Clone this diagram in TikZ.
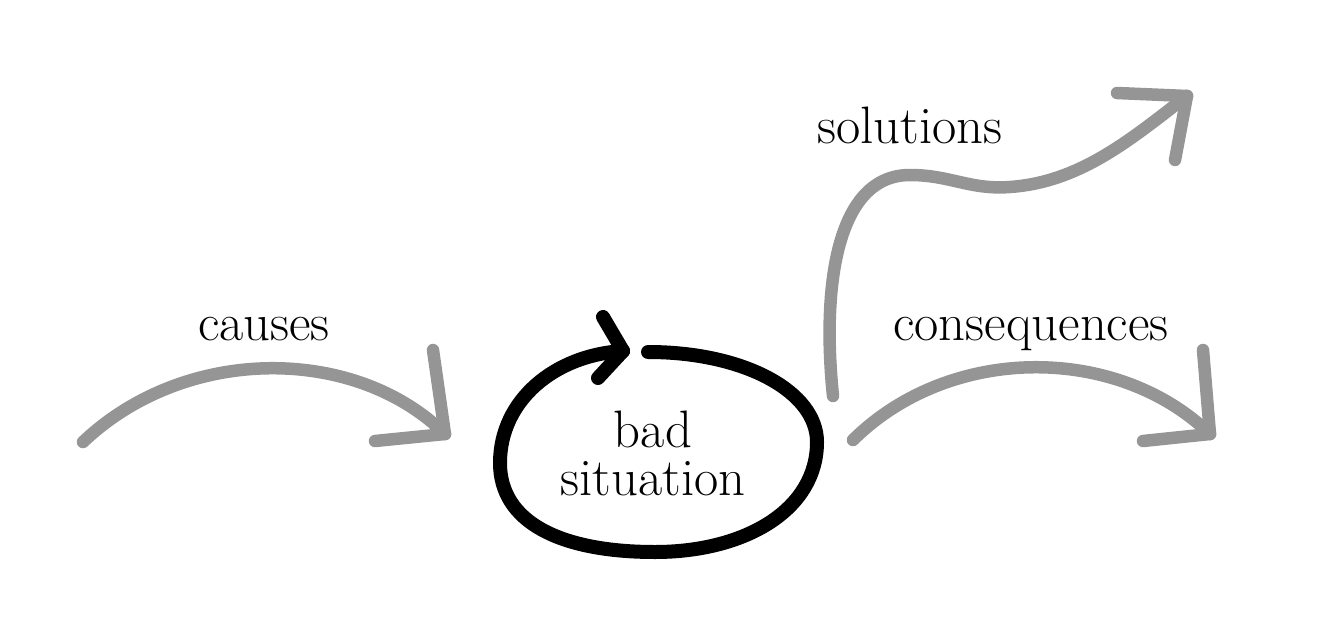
\documentclass[tikz,border=0pt]{standalone}
\definecolor{arrowgray}{HTML}{959595}
\tikzset{
  grayline/.style={draw=arrowgray, line width=0.25cm, line cap=round, line join=round},
  blackline/.style={draw=black, line width=0.28cm, line cap=round, line join=round},
  lbl/.style={font=\fontsize{30}{30}\selectfont, anchor=base, inner sep=0pt}
}
\begin{document}
\begin{tikzpicture}[x=0.02cm, y=-0.02cm]
\useasboundingbox (0,0) rectangle (1332,632);
% labels
\node[lbl] (causes) at (264,340) {causes};
\node[lbl] (solutions) at (910,143) {solutions};
\node[lbl] (consequences) at (1031,340) {consequences};
\node[lbl] (bad) at (653,447) {bad};
\node[lbl] (situation) at (653,495) {situation};
% causes arrow
\coordinate (c0) at (83,442);
\coordinate (c1) at (445,434);
\draw[grayline] (c0) .. controls (185,345) and (355,345) .. (c1);
\draw[grayline] (433,350) -- (c1);
\draw[grayline] (375,441) -- (c1);
% consequences arrow
\coordinate (q0) at (853,440);
\coordinate (q1) at (1210,434);
\draw[grayline] (q0) .. controls (950,344) and (1117,344) .. (q1);
\draw[grayline] (1203,350) -- (q1);
\draw[grayline] (1143,441) -- (q1);
% solutions arrow
\coordinate (s0) at (833,396);
\coordinate (s1) at (1187,96);
\draw[grayline] (s0) .. controls (822,290) and (835,175) .. (910,175)
  .. controls (950,175) and (970,190) .. (1010,187)
  .. controls (1080,182) and (1130,140) .. (s1);
\draw[grayline] (1117,93) -- (s1);
\draw[grayline] (1175,160) -- (s1);
% bad situation loop
\coordinate (e0) at (648,352);
\coordinate (e1) at (623,351);
\draw[blackline] (e0) .. controls (745,352) and (817,392) .. (817,442)
  .. controls (817,510) and (745,552) .. (655,552)
  .. controls (560,552) and (500,522) .. (500,463)
  .. controls (500,400) and (555,355) .. (e1);
\draw[blackline] (603,317) -- (e1);
\draw[blackline] (598,378) -- (e1);
\end{tikzpicture}
\end{document}
